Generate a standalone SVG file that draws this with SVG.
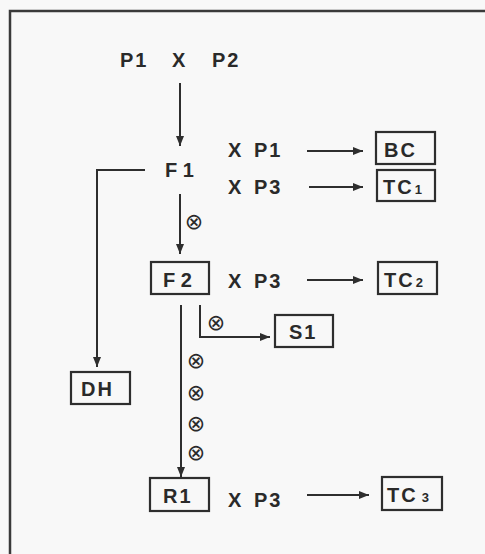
<svg xmlns="http://www.w3.org/2000/svg" width="485" height="554" viewBox="0 0 485 554">
<style>
.t{font-family:"Liberation Sans",Arial,sans-serif;font-weight:bold;font-size:20px;fill:#2a2a2a;letter-spacing:2px;word-spacing:3px}
.n{letter-spacing:1px;word-spacing:-2px}
.s{font-size:13px}
.x{font-family:"DejaVu Sans",sans-serif;font-size:22px;fill:#2a2a2a;text-anchor:middle}
.b{fill:none;stroke:#2e2e2e;stroke-width:2.2}
.c{fill:none;stroke:#2e2e2e;stroke-width:2}
</style>
<defs>
<marker id="ah" viewBox="0 0 10 8" refX="10" refY="4" markerWidth="10" markerHeight="8" markerUnits="userSpaceOnUse" orient="auto">
<path d="M0,0 L10,4 L0,8 z" fill="#2e2e2e"/>
</marker>
</defs>
<rect width="485" height="554" fill="#f8f8f8"/>
<g id="frame">
<path d="M10,554 V11 H485" fill="none" stroke="#3a3a3a" stroke-width="2.5"/>
</g>
<g id="connectors">
<line class="c" x1="180" y1="83" x2="180" y2="146" marker-end="url(#ah)"/>
<line class="c" x1="307" y1="151" x2="363" y2="151" marker-end="url(#ah)"/>
<line class="c" x1="309" y1="187" x2="363" y2="187" marker-end="url(#ah)"/>
<path class="c" d="M145,170 H97 V367" marker-end="url(#ah)"/>
<line class="c" x1="180" y1="194" x2="180" y2="254" marker-end="url(#ah)"/>
<line class="c" x1="307" y1="280" x2="363" y2="280" marker-end="url(#ah)"/>
<path class="c" d="M200,305 V337 H270" marker-end="url(#ah)"/>
<line class="c" x1="181" y1="305" x2="181" y2="477" marker-end="url(#ah)"/>
<line class="c" x1="307" y1="495" x2="369" y2="495" marker-end="url(#ah)"/>
<text class="x" x="194" y="229">⊗</text>
<text class="x" x="216" y="330">⊗</text>
<text class="x" x="196" y="368">⊗</text>
<text class="x" x="196" y="400">⊗</text>
<text class="x" x="196" y="431">⊗</text>
<text class="x" x="196" y="460">⊗</text>
</g>
<g id="P1xP2">
<text class="t" x="120" y="67">P1</text>
<text class="t" x="172" y="67">X</text>
<text class="t" x="212" y="67">P2</text>
</g>
<g id="F1"><text class="t n" x="165" y="177" xml:space="preserve">F 1</text></g>
<g id="xP1a"><text class="t" x="228" y="157" xml:space="preserve">X P1</text></g>
<g id="xP3a"><text class="t" x="228" y="194" xml:space="preserve">X P3</text></g>
<g id="BC"><rect class="b" x="376" y="132" width="59" height="32"/><text class="t" x="384" y="157">BC</text></g>
<g id="TC1"><rect class="b" x="377" y="170" width="58" height="31"/><text class="t" x="383" y="194">TC<tspan class="s" dx="1">1</tspan></text></g>
<g id="F2"><rect class="b" x="151" y="262" width="58" height="32"/><text class="t n" x="163" y="287" xml:space="preserve">F 2</text></g>
<g id="xP3b"><text class="t" x="228" y="288" xml:space="preserve">X P3</text></g>
<g id="TC2"><rect class="b" x="378" y="262" width="59" height="32"/><text class="t" x="384" y="287">TC<tspan class="s" dx="1">2</tspan></text></g>
<g id="S1"><rect class="b" x="275" y="315" width="58" height="32"/><text class="t" x="289" y="339">S1</text></g>
<g id="DH"><rect class="b" x="71" y="372" width="59" height="32"/><text class="t" x="81" y="396">DH</text></g>
<g id="R1"><rect class="b" x="150" y="478" width="59" height="33"/><text class="t" x="163" y="503">R1</text></g>
<g id="xP3c"><text class="t" x="228" y="507" xml:space="preserve">X P3</text></g>
<g id="TC3"><rect class="b" x="382" y="477" width="60" height="33"/><text class="t" x="387" y="502">TC<tspan class="s" dx="4">3</tspan></text></g>
</svg>
